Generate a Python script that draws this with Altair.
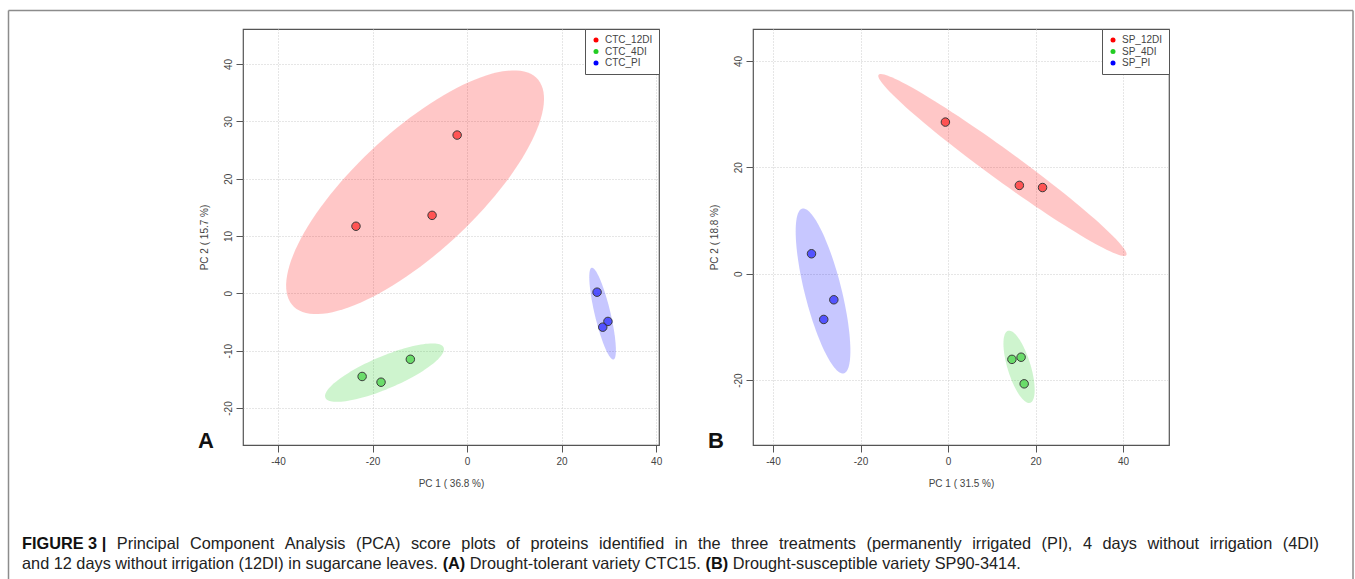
import altair as alt
import numpy as np
import pandas as pd

# Treatment groups and their colours
GROUPS_A = ["CTC_12DI", "CTC_4DI", "CTC_PI"]
GROUPS_B = ["SP_12DI", "SP_4DI", "SP_PI"]
GROUP_COLORS = ["#FF0000", "#22CC22", "#0000FF"]

# CTC15 PCA scores (three replicates per treatment)
a_pc1_12di = [-23.5, -7.4, -2.1]
a_pc2_12di = [11.7, 13.6, 27.6]
a_pc1_4di = [-22.2, -18.2, -12.0]
a_pc2_4di = [-14.5, -15.5, -11.5]
a_pc1_pi = [27.5, 29.8, 28.7]
a_pc2_pi = [0.2, -4.9, -5.9]

# SP90-3414 PCA scores
b_pc1_12di = [-0.6, 16.3, 21.6]
b_pc2_12di = [28.5, 16.6, 16.2]
b_pc1_4di = [14.6, 16.7, 17.4]
b_pc2_4di = [-16.1, -15.7, -20.7]
b_pc1_pi = [-31.2, -26.1, -28.4]
b_pc2_pi = [3.75, -4.9, -8.6]

A_X_TICKS = [-40, -20, 0, 20, 40]
A_Y_TICKS = [-20, -10, 0, 10, 20, 30, 40]
B_X_TICKS = [-40, -20, 0, 20, 40]
B_Y_TICKS = [-20, 0, 20, 40]

# Caption: (text, bold) runs per line
CAPTION_LINE1 = [
    ("FIGURE 3 |", True),
    ("Principal Component Analysis (PCA) score plots of proteins identified in the "
     "three treatments (permanently irrigated (PI), 4 days without irrigation (4DI)", False),
]
CAPTION_LINE2 = [
    ("and 12 days without irrigation (12DI) in sugarcane leaves.", False),
    ("(A)", True),
    ("Drought-tolerant variety CTC15.", False),
    ("(B)", True),
    ("Drought-susceptible variety SP90-3414.", False),
]

FONT = "Liberation Sans"
AXIS_GRAY = "#555555"
TEXT_GRAY = "#444444"

# Liberation Sans advance widths (1/1000 em) used to lay out the caption runs
_REG = {" ": 278, "(": 333, ")": 333, ",": 278, ".": 278, "-": 333, "|": 260, "%": 889}
_REG.update({c: 556 for c in "0123456789abdeghnopqu"})
_REG.update({"c": 500, "f": 278, "i": 222, "j": 222, "k": 500, "l": 222, "m": 833,
             "r": 333, "s": 500, "t": 278, "v": 500, "w": 722, "x": 500, "y": 500, "z": 500})
_REG.update({"A": 667, "B": 667, "C": 722, "D": 722, "E": 667, "F": 611, "G": 778,
             "H": 722, "I": 278, "J": 500, "K": 667, "L": 556, "M": 833, "N": 722,
             "O": 778, "P": 667, "Q": 778, "R": 722, "S": 667, "T": 611, "U": 722,
             "V": 667, "W": 944, "X": 667, "Y": 667, "Z": 611})
_BOLD = dict(_REG)
_BOLD.update({"A": 722, "B": 722, "I": 278, "R": 722, "U": 722, "|": 280,
              "(": 333, ")": 333, " ": 278})


def text_width(s, bold, size):
    table = _BOLD if bold else _REG
    return sum(table.get(c, 556) for c in s) * size / 1000.0


def conf_ellipse(xs, ys, level=0.95, n=120):
    """95% normal-theory ellipse around a group of score points."""
    pts = np.column_stack([xs, ys])
    mu = pts.mean(axis=0)
    cov = np.cov(pts, rowvar=False)
    vals, vecs = np.linalg.eigh(cov)
    r = np.sqrt(-2.0 * np.log(1.0 - level))
    th = np.linspace(0, 2 * np.pi, n + 1)
    circ = np.vstack([np.cos(th), np.sin(th)])
    ell = vecs @ np.diag(np.sqrt(np.maximum(vals, 0))) @ circ * r + mu[:, None]
    return ell[0], ell[1]


def build_frames(groups, xs_list, ys_list):
    pts, ells = [], []
    for g, xs, ys in zip(groups, xs_list, ys_list):
        for x, y in zip(xs, ys):
            pts.append({"group": g, "pc1": x, "pc2": y})
        ex, ey = conf_ellipse(xs, ys)
        for i, (x, y) in enumerate(zip(ex, ey)):
            ells.append({"group": g, "pc1": float(x), "pc2": float(y), "idx": i})
    return pd.DataFrame(pts), pd.DataFrame(ells)


one = pd.DataFrame({"k": [0]})


def label(text, x, y, size, weight="normal", color="#222222"):
    return alt.Chart(one).mark_text(
        text=text, align="left", baseline="alphabetic", font=FONT,
        fontSize=size, fontWeight=weight, color=color
    ).encode(x=alt.value(x), y=alt.value(y))


def panel(groups, xs_list, ys_list, xdom, ydom, xticks, yticks, xtitle, ytitle, letter):
    pts, ells = build_frames(groups, xs_list, ys_list)
    cscale = alt.Scale(domain=groups, range=GROUP_COLORS)
    legend = alt.Legend(
        title=None, orient="top-right", offset=0, padding=6,
        strokeColor=AXIS_GRAY, fillColor="white", symbolType="circle",
        symbolSize=25, symbolOpacity=1, symbolStrokeWidth=0,
        labelFont=FONT, labelFontSize=10, labelColor=TEXT_GRAY,
        labelOffset=4, rowPadding=1.5,
    )
    common_axis = dict(
        grid=True, gridColor="#cccccc", gridDash=[1, 2], gridWidth=1,
        domain=False, ticks=True, tickSize=7, tickColor=AXIS_GRAY, tickWidth=1,
        labelFont=FONT, labelFontSize=10, labelColor=TEXT_GRAY, labelOverlap=False,
        labelFlush=False, labelExpr="toString(datum.value)",
        titleFont=FONT, titleFontSize=10,
        titleFontWeight="normal", titleColor=TEXT_GRAY,
    )
    x = alt.X("pc1:Q", scale=alt.Scale(domain=xdom, nice=False, zero=False),
              axis=alt.Axis(values=xticks, title=xtitle, labelPadding=4,
                            titlePadding=12, **common_axis))
    y = alt.Y("pc2:Q", scale=alt.Scale(domain=ydom, nice=False, zero=False),
              axis=alt.Axis(values=yticks, title=ytitle, labelAngle=270,
                            labelAlign="center", labelBaseline="bottom",
                            labelPadding=3, titlePadding=14, **common_axis))
    fill = alt.Fill("group:N", scale=cscale, legend=legend)

    ellipse = alt.Chart(ells).mark_line(
        strokeWidth=0, fillOpacity=0.22, clip=True
    ).encode(x=x, y=y, fill=fill, detail="group:N", order="idx:Q")
    points = alt.Chart(pts).mark_circle(
        size=72, opacity=1, fillOpacity=0.58, stroke="#3a3a3a", strokeWidth=1
    ).encode(x=x, y=y, fill=fill)
    tag = label(letter, -45, 419, 22, weight="bold", color="#111111")
    return alt.layer(ellipse, points, tag).properties(width=416, height=416)


panel_a = panel(
    GROUPS_A,
    [a_pc1_12di, a_pc1_4di, a_pc1_pi],
    [a_pc2_12di, a_pc2_4di, a_pc2_pi],
    [-47.4, 40.6], [-26.45, 46.1], A_X_TICKS, A_Y_TICKS,
    "PC 1 ( 36.8 %)", "PC 2 ( 15.7 %)", "A",
)
panel_b = panel(
    GROUPS_B,
    [b_pc1_12di, b_pc1_4di, b_pc1_pi],
    [b_pc2_12di, b_pc2_4di, b_pc2_pi],
    [-44.57, 50.5], [-32.2, 46.0], B_X_TICKS, B_Y_TICKS,
    "PC 1 ( 31.5 %)", "PC 2 ( 18.8 %)", "B",
)

# Figure frame, positioned relative to the first panel's plot origin
FRAME = "#8c8c8c"
frame = alt.layer(
    alt.Chart(one).mark_rule(color=FRAME, strokeWidth=1.5).encode(
        x=alt.value(-234.5), y=alt.value(-18.5), y2=alt.value(550)),
    alt.Chart(one).mark_rule(color=FRAME, strokeWidth=1.5).encode(
        x=alt.value(-234.5), x2=alt.value(1110), y=alt.value(-18.5)),
    alt.Chart(one).mark_rule(color=FRAME, strokeWidth=1.5).encode(
        x=alt.value(1110), y=alt.value(-18.5), y2=alt.value(550)),
)

# Caption layout: the last line is set naturally, the first line is justified
CAP_LEFT, CAP_RIGHT1, CAP_RIGHT2 = -221.0, 1076.0, 778.0
CAP_Y1, CAP_Y2 = 519.5, 540.0
space_units = 278 / 1000.0
line2_units = sum(text_width(t, b, 1.0) for t, b in CAPTION_LINE2) + \
    space_units * (len(CAPTION_LINE2) - 1)
cap_size = (CAP_RIGHT2 - CAP_LEFT) / line2_units

caption_layers = []
xpos = CAP_LEFT
for text, bold in CAPTION_LINE2:
    caption_layers.append(label(text, xpos, CAP_Y2, cap_size,
                                weight="bold" if bold else "normal",
                                color="#111111" if bold else "#222222"))
    xpos += text_width(text, bold, cap_size) + space_units * cap_size

words1 = []
for text, bold in CAPTION_LINE1:
    if bold:
        words1.append((text, True))
    else:
        words1.extend((w, False) for w in text.split(" "))
natural = sum(text_width(w, b, cap_size) for w, b in words1)
gap = (CAP_RIGHT1 - CAP_LEFT - natural) / (len(words1) - 1)
xpos = CAP_LEFT
for w, b in words1:
    caption_layers.append(label(w, xpos, CAP_Y1, cap_size,
                                weight="bold" if b else "normal",
                                color="#111111" if b else "#222222"))
    xpos += text_width(w, b, cap_size) + gap

caption = alt.layer(*caption_layers)

panel_a_full = alt.layer(panel_a, frame, caption)

chart = alt.hconcat(panel_a_full, panel_b, spacing=94, bounds="flush").resolve_scale(
    fill="independent"
).properties(
    padding={"left": 7, "top": 9, "right": 0, "bottom": 0},
    background="white",
).configure_view(stroke=AXIS_GRAY, strokeWidth=1.2)

chart.save("out.html", embed_options={"renderer": "svg", "actions": False})
